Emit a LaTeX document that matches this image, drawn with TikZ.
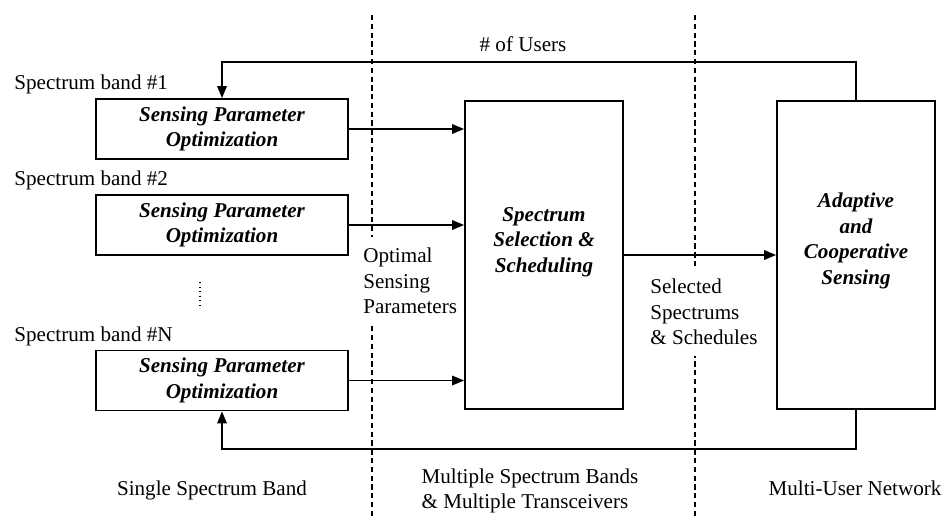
\documentclass[tikz,border=0pt]{standalone}
\usepackage{fontspec}
\setmainfont{Liberation Serif}
\usetikzlibrary{positioning,arrows.meta,calc}
\newcommand{\dsize}{\fontsize{12}{14.5}\selectfont}
\tikzset{
  box/.style={draw, line width=1pt, align=center, inner sep=2pt},
  spo/.style={box, minimum width=5.04cm, minimum height=1.2cm,
              font=\dsize\bfseries\itshape},
  tall/.style={box, minimum width=3.16cm, minimum height=6.16cm},
  bi/.style={align=center, inner sep=0pt, font=\dsize\bfseries\itshape},
  call/.style={-{Triangle[length=2.4mm, width=1.9mm]}, line width=1pt},
  sep/.style={line width=1pt, dash pattern=on 3pt off 2pt},
  lbl/.style={align=left, inner xsep=0pt, inner ysep=0.22cm},
}

\begin{document}
\begin{tikzpicture}[font=\dsize]
  \useasboundingbox (0,0) rectangle (18.92,10.32);

  %% selection and sensing blocks
  \node[tall] (sel) at (10.88,5.22) {};
  \node[bi] (selt) at ($(sel.center)+(0,0.26)$) {Spectrum\\Selection \&\\Scheduling};
  \node[tall] (ada) at (17.12,5.22) {};
  \node[bi] (adat) at ($(ada.center)+(0,0.28)$) {Adaptive\\and\\Cooperative\\Sensing};
  \draw[call] (sel) -- (ada);

  %% one optimizer per band
  \foreach \i/\n/\y in {1/1/7.74, 2/2/5.82, 3/N/2.71} {
    \node[spo] (b\i) at (4.44,\y) {Sensing Parameter\\Optimization};
    \node[anchor=base west, inner sep=0pt] (l\i) at ($(b\i.north west)+(-1.62,0.17)$)
      {Spectrum band \#\n};
    \draw[call] (b\i.east) -- (b\i.east -| sel.west);
  }
  \draw[dotted, line width=0.6pt] (4.0,4.68) -- (4.0,4.18);

  %% feedback from the network
  \coordinate (ftop) at ($(b1.north)+(0,0.72)$);
  \coordinate (fbot) at ($(b3.south)+(0,-0.75)$);
  \draw[call] (ada.north) |- (ftop) -- (b1.north);
  \draw[call] (ada.south) |- (fbot) -- (b3.south);
  \node (users) at (10.46,9.44) {\# of Users};

  %% region borders
  \node[lbl, anchor=west] (opt) at (7.26,4.70) {Optimal\\Sensing\\Parameters};
  \node[lbl, anchor=west] (chs) at (13.0,4.08) {Selected\\Spectrums\\\& Schedules};
  \coordinate (d1t) at (7.44,10.02);
  \coordinate (d1b) at (7.44,0);
  \coordinate (d2t) at (13.90,10.02);
  \coordinate (d2b) at (13.90,0);
  \draw[sep] (d1t) -- (d1t |- opt.north);
  \draw[sep] (d1b) -- (d1b |- opt.south);
  \draw[sep] (d2t) -- (d2t |- chs.north);
  \draw[sep] (d2b) -- (d2b |- chs.south);

  \node (r1) at (4.24,0.52) {Single Spectrum Band};
  \node[align=left] (r2) at (10.6,0.50) {Multiple Spectrum Bands\\\& Multiple Transceivers};
  \node (r3) at (17.10,0.56) {Multi-User Network};
\end{tikzpicture}
\end{document}
